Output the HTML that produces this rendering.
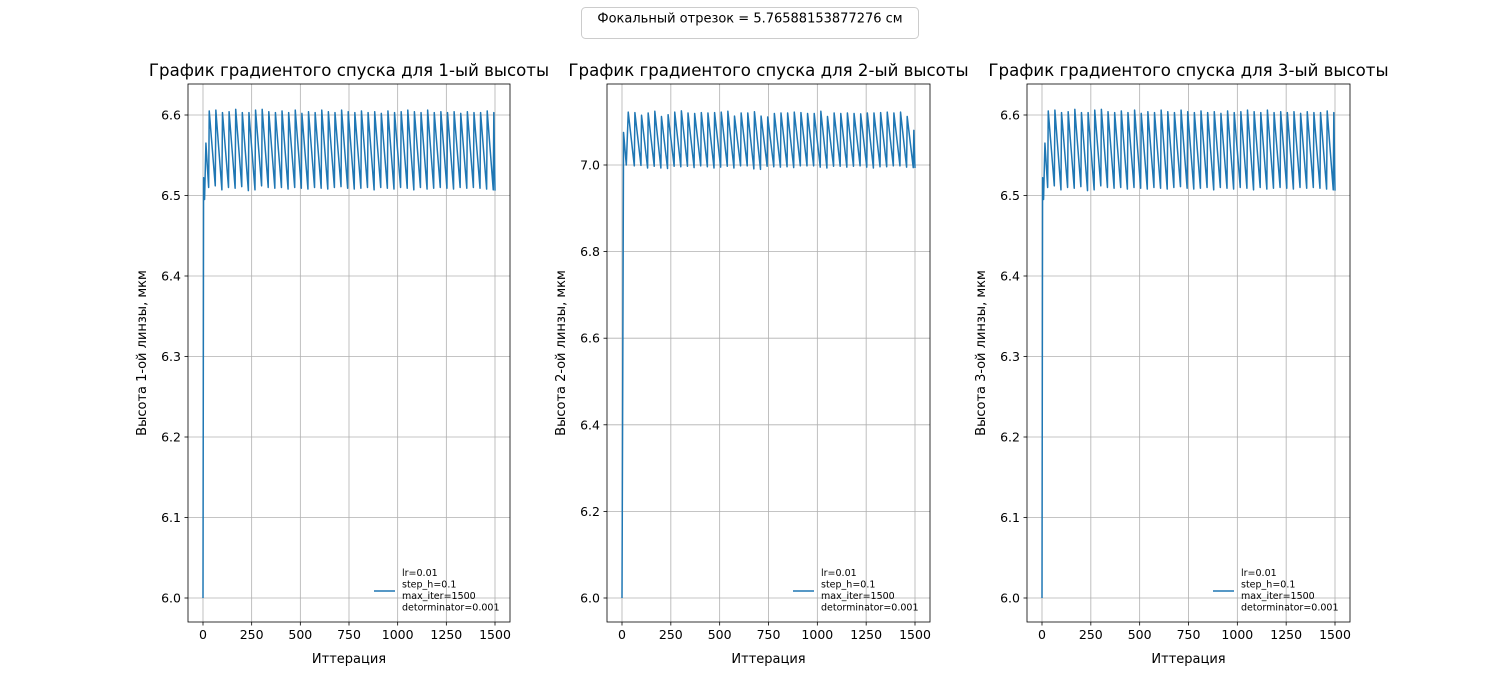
<!DOCTYPE html>
<html><head><meta charset="utf-8">
<style>
body{margin:0;background:#fff;}
svg{display:block;font-family:"DejaVu Sans","Liberation Sans",sans-serif;}
</style></head>
<body>
<svg id="fig" width="1500" height="700">
<rect x="581.5" y="7.5" width="337" height="31" rx="4" fill="#fff" stroke="#ccc"/>
<text x="750" y="19" font-size="13" text-anchor="middle" dominant-baseline="middle">Фокальный отрезок = 5.76588153877276 см</text>
</svg>
<script>
// shared iteration points for each sawtooth cycle (peak iterations)
const peakIters = [32,66,100,134,168,202,236,270,304,338,372,406,440,474,508,542,576,610,644,678,712,746,780,814,848,882,916,950,984,1018,1052,1086,1120,1154,1188,1222,1256,1290,1324,1358,1392,1426,1460,1494];
const startIters1 = [0,3,8,15,29];
const startVals1 = [6.0,6.522,6.495,6.565,6.51];
const p1Peaks = [6.605,6.606,6.603,6.604,6.607,6.603,6.603,6.606,6.607,6.604,6.603,6.605,6.603,6.606,6.602,6.604,6.603,6.606,6.604,6.603,6.606,6.604,6.603,6.605,6.603,6.604,6.602,6.605,6.603,6.604,6.606,6.604,6.603,6.606,6.603,6.604,6.603,6.604,6.602,6.604,6.603,6.603,6.605,6.603];
const p1Troughs = [6.512,6.507,6.510,6.509,6.511,6.506,6.507,6.512,6.510,6.509,6.510,6.508,6.510,6.509,6.508,6.510,6.509,6.508,6.510,6.511,6.509,6.508,6.509,6.510,6.507,6.510,6.509,6.508,6.510,6.509,6.507,6.510,6.508,6.509,6.510,6.509,6.508,6.510,6.509,6.510,6.509,6.508,6.507,6.506];
const startIters2 = [0,8,22];
const startVals2 = [6.0,7.075,7.0];
const p2Peaks = [7.122,7.121,7.115,7.12,7.124,7.112,7.116,7.122,7.125,7.12,7.119,7.121,7.12,7.121,7.122,7.124,7.113,7.12,7.12,7.123,7.113,7.111,7.119,7.12,7.12,7.122,7.121,7.119,7.119,7.124,7.112,7.12,7.119,7.12,7.119,7.118,7.12,7.12,7.121,7.122,7.12,7.122,7.112,7.08];
const p2Troughs = [6.998,6.999,6.993,6.997,6.993,6.992,6.997,6.996,6.997,6.994,6.998,6.996,6.993,6.995,6.997,6.993,6.998,6.998,6.991,6.99,6.997,6.996,6.995,6.996,6.994,6.998,6.998,6.998,6.995,6.993,6.997,6.997,6.995,6.997,6.998,6.995,6.993,6.996,6.996,6.998,6.998,6.995,6.994,6.993];
const xTicks = [0,250,500,750,1000,1250,1500];
const yTicks1 = [6.0,6.1,6.2,6.3,6.4,6.5,6.6];
const yTicks2 = [6.0,6.2,6.4,6.6,6.8,7.0];
const legendLines = ["lr=0.01","step_h=0.1","max_iter=1500","detorminator=0.001"];

const NS="http://www.w3.org/2000/svg";
const fig=document.getElementById('fig');
function mk(tag,attrs,parent){const e=document.createElementNS(NS,tag);for(const k in attrs)e.setAttribute(k,attrs[k]);(parent||fig).appendChild(e);return e;}

function panel(n,x0,x1,yLo,yHi,pxHi,yTicks,startIters,startVals,peaks,troughs){
  const top=84,bot=622,pxLo=598;
  const g=mk('g',{});
  
  
  const xs=v=>x0+15+(v/1500)*(x1-x0-30);
  const ys=v=>pxLo-(v-yLo)/(yHi-yLo)*(pxLo-pxHi);
  xTicks.forEach(t=>{
    const x=xs(t);
    const l=mk('line',{x1:x,x2:x,y1:top,y2:bot,stroke:'#b0b0b0','stroke-width':0.8},g);
    
    mk('line',{x1:x,x2:x,y1:bot,y2:bot+3.5,stroke:'#000','stroke-width':0.8},g);
    const tx=mk('text',{x:x,y:bot+17,'font-size':12.5,'text-anchor':'middle'},g);
    tx.textContent=t;
    
  });
  yTicks.forEach(t=>{
    const y=ys(t);
    const l=mk('line',{x1:x0,x2:x1,y1:y,y2:y,stroke:'#b0b0b0','stroke-width':0.8},g);
    
    mk('line',{x1:x0-3.5,x2:x0,y1:y,y2:y,stroke:'#000','stroke-width':0.8},g);
    const tx=mk('text',{x:x0-7,y:y+4.5,'font-size':12.5,'text-anchor':'end'},g);
    tx.textContent=t.toFixed(1);
    
  });
  let pts=[];
  startIters.forEach((it,i)=>pts.push([xs(it),ys(startVals[i])]));
  peakIters.forEach((it,i)=>{
    pts.push([xs(it),ys(peaks[i])]);
    const nx=i+1<peakIters.length?peakIters[i+1]-3:1500;
    pts.push([xs(Math.min(nx,1500)),ys(troughs[i])]);
  });
  const p=mk('polyline',{points:pts.map(a=>a[0].toFixed(2)+','+a[1].toFixed(2)).join(' '),fill:'none',stroke:'#1f77b4','stroke-width':1.5,'stroke-linejoin':'round'},g);
  
  const fr=mk('rect',{x:x0,y:top,width:x1-x0,height:bot-top,fill:'none',stroke:'#000','stroke-width':0.8},g);
  
  const ti=mk('text',{x:(x0+x1)/2,y:76,'font-size':16.6,'text-anchor':'middle'},g);
  ti.textContent='График градиентого спуска для '+n+'-ый высоты';
  
  const xl=mk('text',{x:(x0+x1)/2,y:663,'font-size':13,'text-anchor':'middle'},g);
  xl.textContent='Иттерация';
  
  const yl=mk('text',{x:0,y:0,'font-size':13,'text-anchor':'middle',transform:`translate(${x0-42},${(top+bot)/2}) rotate(-90)`},g);
  yl.textContent='Высота '+n+'-ой линзы, мкм';
  
  const lg=mk('g',{},g);
  
  mk('line',{x1:x0+186,x2:x0+207,y1:591,y2:591,stroke:'#1f77b4','stroke-width':1.5},lg);
  legendLines.forEach((s,i)=>{
    const t=mk('text',{x:x0+214,y:576+i*11.5,'font-size':9.5},lg);
    t.textContent=s;
  });
}
panel(1,188,510,6.0,6.6,115,yTicks1,startIters1,startVals1,p1Peaks,p1Troughs);
panel(2,607,930,6.0,7.0,165,yTicks2,startIters2,startVals2,p2Peaks,p2Troughs);
panel(3,1027,1350,6.0,6.6,115,yTicks1,startIters1,startVals1,p1Peaks,p1Troughs);
</script>
</body></html>
